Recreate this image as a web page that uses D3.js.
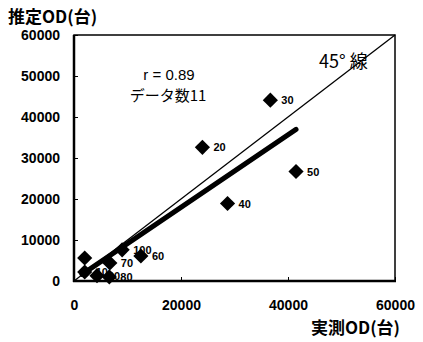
<!DOCTYPE html>
<html><head><meta charset="utf-8">
<script src="https://cdn.jsdelivr.net/npm/d3@7"></script>
<style>
body{margin:0;background:#fff;}
text{font-family:"Liberation Sans","Noto Sans CJK JP",Arial,sans-serif;}
</style></head><body>
<svg id="c" width="423" height="342"></svg>
<script>
const pointLabels = ["","20","30","40","50","60","70","80","90","100","10"];
const measuredOD = [2000,24000,36700,28700,41500,12500,6700,6600,4300,9000,2000];
const estimatedOD = [5600,32600,44100,18900,26700,6100,4400,1000,1300,7600,2200];
const xTicks = [0,20000,40000,60000];
const yTicks = [0,10000,20000,30000,40000,50000,60000];
const regSlope = 0.884, regIntercept = 300, regRange = [1500,41500];
const diagonal = [0,60000];

const svg = d3.select("#c");
const x = d3.scaleLinear().domain([0,60000]).range([74,395]);
const y = d3.scaleLinear().domain([0,60000]).range([281,35]);

svg.append("rect").attr("x",74).attr("y",35).attr("width",321).attr("height",246)
  .attr("fill","none").attr("stroke","#000").attr("stroke-width",1.5);
svg.append("line").attr("x1",74).attr("x2",74).attr("y1",35).attr("y2",282).attr("stroke","#000").attr("stroke-width",2.5);
svg.append("line").attr("x1",73).attr("x2",396).attr("y1",281).attr("y2",281).attr("stroke","#000").attr("stroke-width",2.5);

const yAxis = d3.axisLeft(y).tickValues(yTicks).tickSize(-4).tickPadding(14).tickFormat(d3.format("d"));
const gy = svg.append("g").attr("transform","translate(74,0)").call(yAxis);
gy.select(".domain").remove();
gy.selectAll("text").attr("font-size",14).attr("font-weight","bold").attr("fill","#000");

const xAxis = d3.axisBottom(x).tickValues(xTicks).tickSize(-4).tickPadding(16).tickFormat(d3.format("d"));
const gx = svg.append("g").attr("transform","translate(0,281)").call(xAxis);
gx.select(".domain").remove();
gx.selectAll("text").attr("font-size",14).attr("font-weight","bold").attr("fill","#000").attr("dy","0.9em");

svg.append("line").attr("x1",x(diagonal[0])).attr("y1",y(diagonal[0])).attr("x2",x(diagonal[1])).attr("y2",y(diagonal[1]))
  .attr("stroke","#000").attr("stroke-width",1.3);
svg.append("line").attr("x1",x(regRange[0])).attr("y1",y(regSlope*regRange[0]+regIntercept))
  .attr("x2",x(regRange[1])).attr("y2",y(regSlope*regRange[1]+regIntercept))
  .attr("stroke","#000").attr("stroke-width",5).attr("stroke-linecap","round");

const pts = measuredOD.map((v,i)=>({x:v,y:estimatedOD[i],l:pointLabels[i]}));
svg.append("g").selectAll("path").data(pts).join("path")
  .attr("d",d3.symbol(d3.symbolSquare,115)())
  .attr("transform",d=>`translate(${x(d.x)},${y(d.y)}) rotate(45)`)
  .attr("fill","#000");
svg.append("g").selectAll("text").data(pts.filter(d=>d.l)).join("text")
  .attr("x",d=>x(d.x)+11).attr("y",d=>y(d.y)+4)
  .attr("font-size",11).attr("font-weight","bold").text(d=>d.l);

svg.append("text").attr("x",8).attr("y",23).attr("font-size",17).attr("font-weight","bold")
  .style("font-family","'Noto Sans CJK JP',sans-serif").text("推定OD(台)");
svg.append("text").attr("x",400).attr("y",334).attr("text-anchor","end").attr("font-size",17).attr("font-weight","bold")
  .style("font-family","'Noto Sans CJK JP',sans-serif").text("実測OD(台)");
svg.append("text").attr("x",169).attr("y",80).attr("text-anchor","middle").attr("font-size",15)
  .text("r = 0.89");
svg.append("text").attr("x",168).attr("y",101).attr("text-anchor","middle").attr("font-size",15)
  .style("font-family","'Noto Sans CJK JP',sans-serif").text("データ数11");
svg.append("text").attr("x",319).attr("y",68).attr("font-size",18)
  .style("font-family","'Noto Sans CJK JP',sans-serif").text("45°  線");
</script></body></html>
